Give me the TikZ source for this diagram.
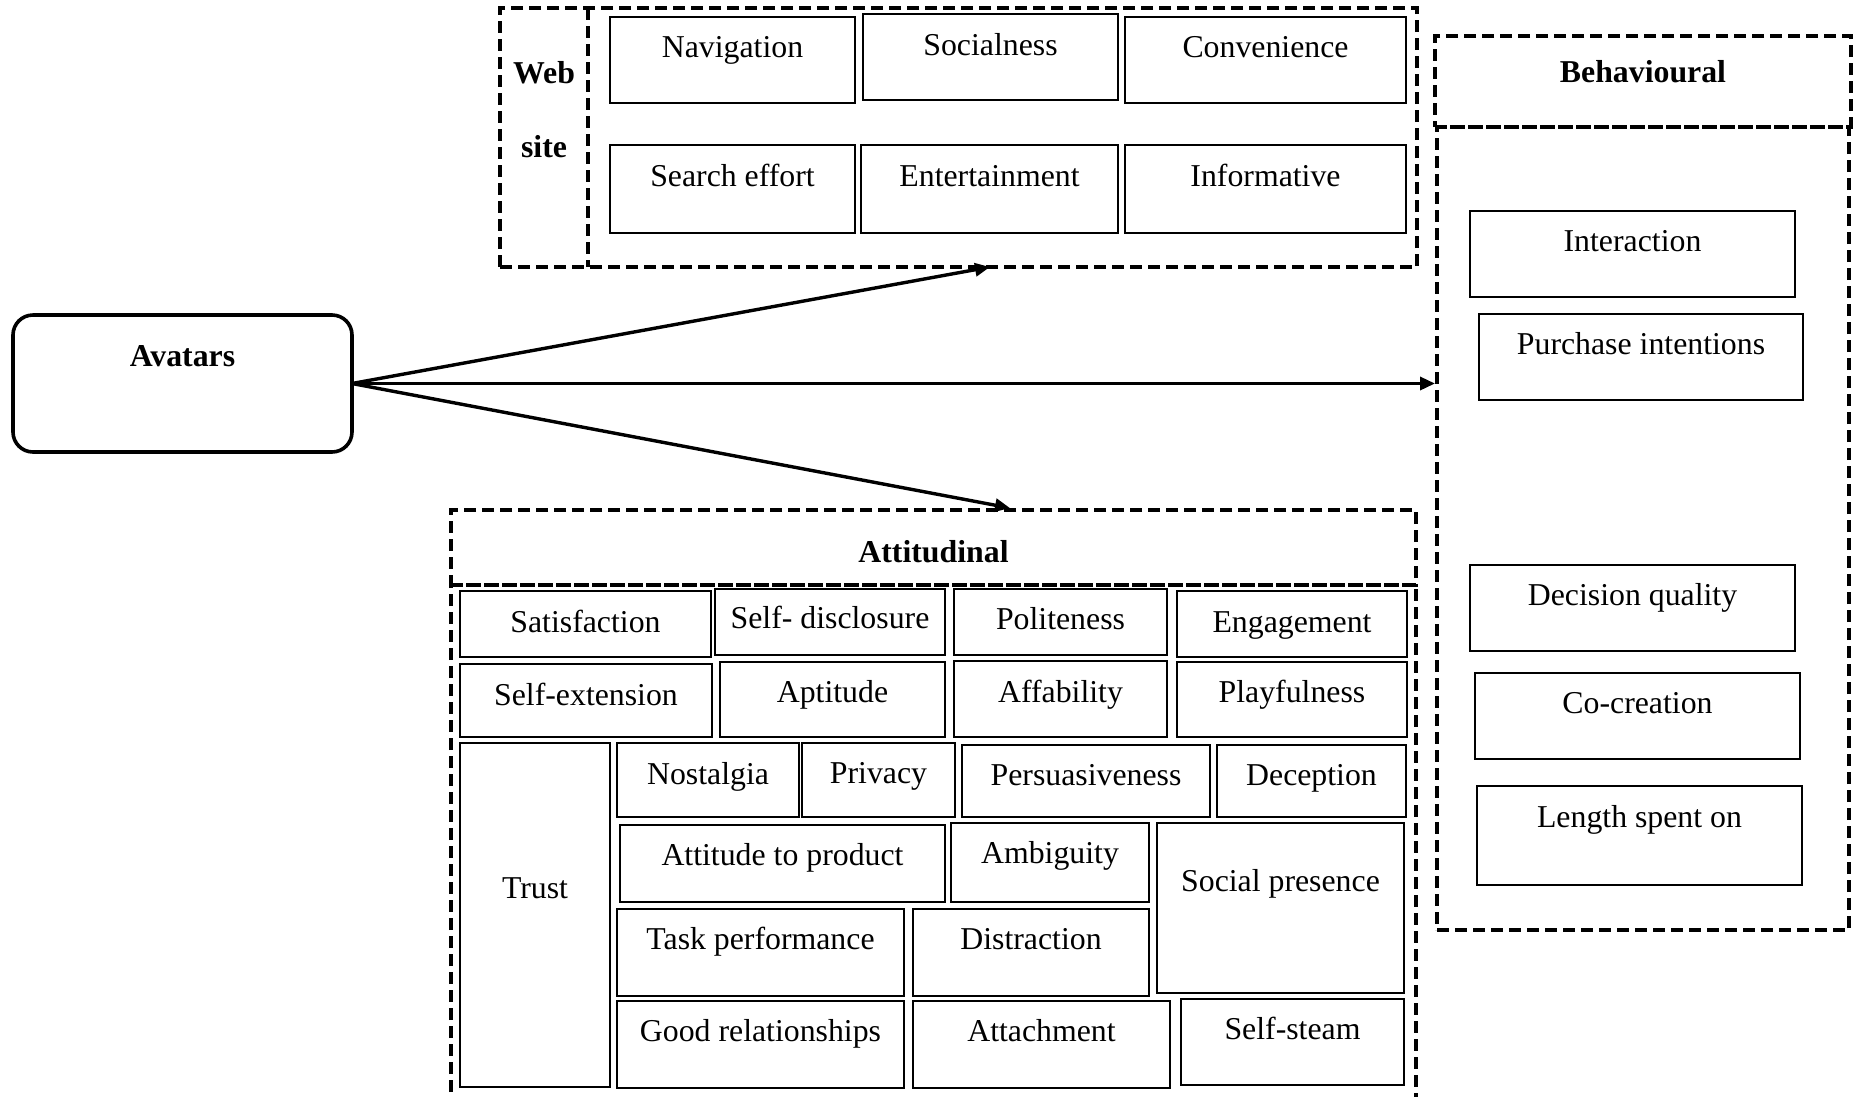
\documentclass[tikz,border=0pt]{standalone}
\usepackage{fontspec}
\setmainfont{Liberation Serif}
\usetikzlibrary{arrows.meta}
\newcommand\tsz{\fontsize{31.8}{38}\selectfont}
\begin{document}
\begin{tikzpicture}[x=1pt,y=-1pt,
  cell/.style={draw, line width=2.2pt, inner sep=0pt, outer sep=0pt,
    anchor=north west, font=\tsz},
  frame/.style={draw, line width=3.4pt, dash pattern=on 12pt off 6pt,
    inner sep=0pt, outer sep=0pt, anchor=north west},
  title/.style={font=\tsz\bfseries},
  link/.style={line width=3.4pt, -{Triangle[length=15pt,width=13pt]}}]
\useasboundingbox[fill=white] (0,0) rectangle (1858,1096);

% ---------- Avatars ----------
\node[draw, line width=3.6pt, rounded corners=20pt, inner sep=0pt, outer sep=0pt,
  anchor=north west, minimum width=339pt, text height=51pt, text depth=86pt,
  title] (av) at (13,315) {Avatars};

% ---------- Web site ----------
\node[frame, minimum width=917pt, minimum height=259pt] (webframe) at (500,8) {};
\draw[line width=3.4pt, dash pattern=on 12pt off 6pt] (588,8) -- (588,267);
\node[title, anchor=base] (webA) at (544,83) {Web};
\node[title, anchor=base] (webB) at (544,157) {site};

\node[cell, minimum width=245pt, text height=40pt, text depth=46pt] (nav)  at (610,17)  {Navigation};
\node[cell, minimum width=255pt, text height=41pt, text depth=45pt] (soc)  at (863,14)  {Socialness};
\node[cell, minimum width=281pt, text height=40pt, text depth=46pt] (conv) at (1125,17) {Convenience};
\node[cell, minimum width=245pt, text height=41pt, text depth=47pt] (srch) at (610,145) {Search effort};
\node[cell, minimum width=257pt, text height=41pt, text depth=47pt] (ent)  at (861,145) {Entertainment};
\node[cell, minimum width=281pt, text height=41pt, text depth=47pt] (info) at (1125,145) {Informative};

% ---------- Behavioural ----------
\node[frame, minimum width=416pt, text height=46pt, text depth=45pt, title] (behhead) at (1435,36) {Behavioural};
\node[frame, minimum width=412pt, minimum height=803pt] (behbody) at (1437,127) {};

\node[cell, minimum width=325pt, text height=40pt, text depth=46pt] (inter) at (1470,211) {Interaction};
\node[cell, minimum width=324pt, text height=40pt, text depth=46pt] (purch) at (1479,314) {Purchase intentions};
\node[cell, minimum width=325pt, text height=40pt, text depth=46pt] (decq)  at (1470,565) {Decision quality};
\node[cell, minimum width=325pt, text height=40pt, text depth=46pt] (cocr)  at (1475,673) {Co-creation};
\node[cell, minimum width=325pt, text height=41pt, text depth=58pt] (lens)  at (1477,786) {Length spent on};

% ---------- Attitudinal ----------
\node[frame, minimum width=965pt, text height=52pt, text depth=23pt, title] (atthead) at (451,510) {Attitudinal};
\draw[line width=3.4pt, dash pattern=on 12pt off 6pt]
  (451,1110) -- (451,585) -- (1416,585) -- (1416,1110);

\node[cell, minimum width=251pt, text height=41pt, text depth=25pt] (sat)   at (460,591)  {Satisfaction};
\node[cell, minimum width=230pt, text height=39pt, text depth=27pt] (sdis)  at (715,589)  {Self- disclosure};
\node[cell, minimum width=213pt, text height=40pt, text depth=26pt] (pol)   at (954,589)  {Politeness};
\node[cell, minimum width=230pt, text height=41pt, text depth=25pt] (eng)   at (1177,591) {Engagement};
\node[cell, minimum width=252pt, text height=41pt, text depth=32pt] (sext)  at (460,664)  {Self-extension};
\node[cell, minimum width=225pt, text height=40pt, text depth=35pt] (apt)   at (720,662)  {Aptitude};
\node[cell, minimum width=213pt, text height=41pt, text depth=35pt] (aff)   at (954,661)  {Affability};
\node[cell, minimum width=230pt, text height=40pt, text depth=35pt] (play)  at (1177,662) {Playfulness};

\node[cell, minimum width=150pt, text height=155pt, text depth=189pt] (trust) at (460,743) {Trust};
\node[cell, minimum width=182pt, text height=41pt, text depth=33pt] (nost)  at (617,743)  {Nostalgia};
\node[cell, minimum width=153pt, text height=40pt, text depth=34pt] (priv)  at (802,743)  {Privacy};
\node[cell, minimum width=248pt, text height=40pt, text depth=32pt] (pers)  at (962,745)  {Persuasiveness};
\node[cell, minimum width=189pt, text height=40pt, text depth=32pt] (decep) at (1217,745) {Deception};

\node[cell, minimum width=325pt, text height=40pt, text depth=37pt] (atp)   at (620,825)  {Attitude to product};
\node[cell, minimum width=198pt, text height=40pt, text depth=39pt] (amb)   at (951,823)  {Ambiguity};
\node[cell, minimum width=247pt, text height=68pt, text depth=102pt] (spres) at (1157,823) {Social presence};
\node[cell, minimum width=287pt, text height=40pt, text depth=47pt] (task)  at (617,909)  {Task performance};
\node[cell, minimum width=236pt, text height=40pt, text depth=47pt] (dist)  at (913,909)  {Distraction};
\node[cell, minimum width=287pt, text height=40pt, text depth=47pt] (good)  at (617,1001) {Good relationships};
\node[cell, minimum width=257pt, text height=40pt, text depth=47pt] (attch) at (913,1001) {Attachment};
\node[cell, minimum width=223pt, text height=40pt, text depth=46pt] (sstm)  at (1181,999) {Self-steam};

% ---------- Connectors ----------
\coordinate (webin) at (990,267);
\coordinate (behin) at (1435,383.5);
\coordinate (attin) at (1010,508);
\draw[link] (av.east) -- (webin);
\draw[link] (av.east) -- (behin);
\draw[link] (av.east) -- (attin);
\end{tikzpicture}
\end{document}
